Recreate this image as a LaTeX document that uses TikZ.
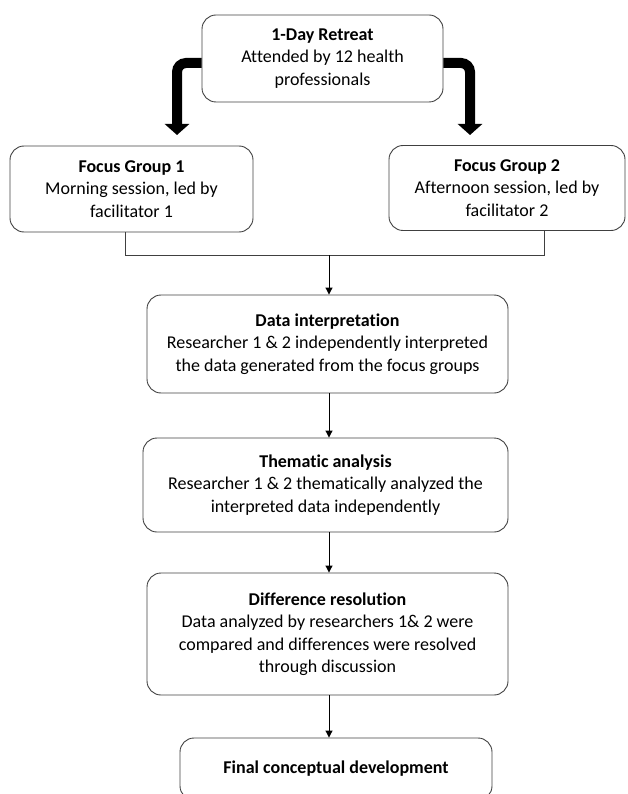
\documentclass[tikz,border=0pt]{standalone}
\usepackage{fontspec}
\setmainfont{Carlito}[Ligatures=NoCommon]
\usetikzlibrary{arrows.meta}
\tikzset{
  box/.style={draw=black!75, line width=0.9pt, rounded corners=14pt, align=center,
    inner sep=2pt, font=\fontsize{18}{22.5}\selectfont},
  thick arrow/.style={line width=10pt, rounded corners=9pt, -{Triangle[width=24pt,length=11pt]}},
  thin arrow/.style={line width=1pt, -{Triangle[width=7pt,length=7pt]}}
}
\begin{document}
\begin{tikzpicture}[x=1pt,y=-1pt]
	\useasboundingbox (0,0) rectangle (628,794);
	\node[box, minimum width=241, minimum height=87] (retreat) at (322.5,58.5) {\textbf{1-Day Retreat}\\Attended by 12 health\\professionals};
	\node[box, minimum width=243, minimum height=86] (fgone) at (131.5,189) {\textbf{Focus Group 1}\\Morning session, led by\\facilitator 1};
	\node[box, minimum width=236, minimum height=85] (fgtwo) at (507,188) {\textbf{Focus Group 2}\\Afternoon session, led by\\facilitator 2};
	\node[box, minimum width=361, minimum height=98] (interp) at (327.5,344) {\textbf{Data interpretation}\\Researcher 1 \& 2 independently interpreted\\the data generated from the focus groups};
	\node[box, minimum width=365, minimum height=94] (thematic) at (325.5,485) {\textbf{Thematic analysis}\\Researcher 1 \& 2 thematically analyzed the\\interpreted data independently};
	\node[box, minimum width=361, minimum height=122] (resolve) at (327.5,634) {\textbf{Difference resolution}\\Data analyzed by researchers 1\& 2 were\\compared and differences were resolved\\through discussion};
	\node[box, minimum width=312, minimum height=62] (final) at (336,769) {\textbf{Final conceptual development}};
	% thick arrows from the retreat
	\coordinate (lturn) at (177,63);
	\coordinate (rturn) at (470,63);
	\coordinate (ltip) at (177,135);
	\coordinate (rtip) at (470,135);
	\draw[thick arrow] (retreat.west |- lturn) -- (lturn) -- (ltip);
	\draw[thick arrow] (retreat.east |- rturn) -- (rturn) -- (rtip);
	% join of the two groups
	\coordinate (join) at (329,255);
	\coordinate (ljoin) at (125,255);
	\coordinate (rjoin) at (544,255);
	\draw[line width=0.7pt, black!75] (fgone.south -| ljoin) -- (ljoin) -- (rjoin) -- (fgtwo.south -| rjoin);
	\draw[thin arrow] (join) -- (interp.north -| join);
	\draw[thin arrow] (interp.south -| join) -- (thematic.north -| join);
	\draw[thin arrow] (thematic.south -| join) -- (resolve.north -| join);
	\draw[thin arrow] (resolve.south -| join) -- (final.north -| join);
\end{tikzpicture}
\end{document}
